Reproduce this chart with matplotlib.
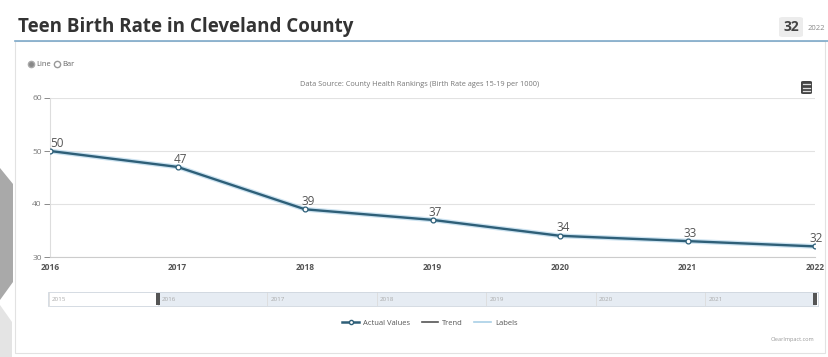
import matplotlib.pyplot as plt
from matplotlib.lines import Line2D
from matplotlib.patches import Rectangle, Polygon, FancyBboxPatch

plt.rcParams['font.family'] = ['Open Sans', 'DejaVu Sans']

# data
years = [2016, 2017, 2018, 2019, 2020, 2021, 2022]
rates = [50, 47, 39, 37, 34, 33, 32]
nav_years = [2015, 2016, 2017, 2018, 2019, 2020, 2021]
latest_value = '32'
latest_year = '2022'

W, H = 829, 357
line_col = '#2e5f78'
glow_col = '#a9cfe6'


def fx(px):
    return px / W


def fy(py):
    return 1 - py / H


fig = plt.figure(figsize=(W / 100, H / 100), dpi=100)
fig.patch.set_facecolor('white')

# left grey chevron (page decoration)
fig.patches.append(Polygon([(fx(0), fy(168)), (fx(13), fy(184)), (fx(13), fy(282)),
                            (fx(0), fy(300))], closed=True, transform=fig.transFigure,
                           facecolor='#a9a9a9', edgecolor='none'))
fig.patches.append(Polygon([(fx(0), fy(305)), (fx(12), fy(322)), (fx(12), fy(357)),
                            (fx(0), fy(357))], closed=True, transform=fig.transFigure,
                           facecolor='#e4e4e4', edgecolor='none'))

# header
fig.text(fx(18), fy(27), 'Teen Birth Rate in Cleveland County', fontsize=13.5,
         fontweight='bold', color='#333333', va='center', ha='left')
fig.patches.append(FancyBboxPatch((fx(779), fy(37)), fx(24), 20 / H,
                                  boxstyle='round,pad=0,rounding_size=0.005',
                                  transform=fig.transFigure, facecolor='#ececec',
                                  edgecolor='none'))
fig.text(fx(791), fy(27), latest_value, fontsize=10, fontweight='bold', color='#444444',
         ha='center', va='center')
fig.text(fx(816), fy(28), latest_year, fontsize=5.5, color='#888888', ha='center', va='center')

# card border and blue header rule
fig.patches.append(Rectangle((fx(15), fy(353)), fx(810), (353 - 41) / H,
                             transform=fig.transFigure, facecolor='none',
                             edgecolor='#e2e2e2', linewidth=0.8))
fig.add_artist(Line2D([fx(15), fx(829)], [fy(41), fy(41)], color='#7ea9c9', linewidth=1.2))

# radio buttons
fig.add_artist(Line2D([fx(31)], [fy(64)], marker='o', markersize=4.5, markerfacecolor='#888888',
                      markeredgecolor='#aaaaaa', linestyle='none'))
fig.text(fx(36), fy(64), 'Line', fontsize=5.5, color='#666666', va='center')
fig.add_artist(Line2D([fx(57)], [fy(64)], marker='o', markersize=4.5, markerfacecolor='white',
                      markeredgecolor='#999999', linestyle='none'))
fig.text(fx(62), fy(64), 'Bar', fontsize=5.5, color='#666666', va='center')

fig.text(fx(420), fy(85), 'Data Source: County Health Rankings (Birth Rate ages 15-19 per 1000)',
         fontsize=5.3, color='#777777', ha='center', va='center')

# menu icon
fig.patches.append(FancyBboxPatch((fx(801), fy(94)), fx(11), 13 / H,
                                  boxstyle='round,pad=0,rounding_size=0.003',
                                  transform=fig.transFigure, facecolor='#444444',
                                  edgecolor='none'))
for py in [84, 87.5, 91]:
    fig.add_artist(Line2D([fx(803), fx(810)], [fy(py), fy(py)], color='#dddddd', linewidth=0.9))

# main chart
ax = fig.add_axes([fx(50), fy(257), fx(815 - 50), (257 - 98) / H])
ax.plot(years, rates, color=glow_col, linewidth=3.5, alpha=0.6, zorder=2)
ax.plot(years, rates, color=line_col, linewidth=1.7, marker='o', markersize=3.5,
        markerfacecolor='white', markeredgecolor=line_col, markeredgewidth=0.9, zorder=3)
for i, (x, y) in enumerate(zip(years, rates)):
    dx = 5 if i == 0 else (2 if i < len(years) - 1 else 1)
    ax.annotate(str(y), (x, y), xytext=(dx, 1), textcoords='offset points', ha='center',
                va='bottom', fontsize=8.5, color='#555555', zorder=4)
ax.set_xlim(2016, 2022)
ax.set_ylim(30, 60)
ax.set_yticks([30, 40, 50, 60])
ax.set_xticks(years)
ax.set_xticklabels([str(y) for y in years], fontsize=6, color='#555555', fontweight='bold')
ax.tick_params(axis='y', labelsize=6, colors='#777777', length=4, width=0.6, pad=2)
ax.tick_params(axis='x', length=0, pad=4)
ax.grid(axis='y', color='#e2e2e2', linewidth=0.8)
for s in ['top', 'right']:
    ax.spines[s].set_visible(False)
ax.spines['left'].set_color('#dddddd')
ax.spines['bottom'].set_color('#cccccc')
ax.set_axisbelow(True)
ax.patch.set_alpha(0)
for lab in ax.get_xticklabels():
    lab.set_color('#555555')

# navigator
nav = fig.add_axes([fx(48.5), fy(306), fx(818 - 48.5), 14 / H])
nav.set_xlim(2015, 2022.03)
nav.set_ylim(0, 1)
nav.axvspan(2016, 2022, color='#e6ecf3', zorder=0)
for yr in nav_years:
    nav.axvline(yr, color='#dcdcdc', linewidth=0.6, zorder=1)
    nav.text(yr + 0.03, 0.45, str(yr), fontsize=4.5, color='#aaaaaa', va='center', ha='left')
for yr in [2016, 2022]:
    nav.add_patch(Rectangle((yr - 0.02, 0.1), 0.04, 0.8, facecolor='#555555',
                            edgecolor='none', zorder=3))
nav.set_xticks([])
nav.set_yticks([])
for s in nav.spines.values():
    s.set_color('#cfd6de')
    s.set_linewidth(0.6)

# legend
handles = [Line2D([], [], color=line_col, linewidth=1.8, marker='o', markersize=3,
                  markerfacecolor='white', markeredgecolor=line_col),
           Line2D([], [], color='#555555', linewidth=1.2),
           Line2D([], [], color=glow_col, linewidth=1.2)]
fig.legend(handles, ['Actual Values', 'Trend', 'Labels'], loc='center',
           bbox_to_anchor=(fx(430), fy(323)), ncol=3, frameon=False, fontsize=5.5,
           handlelength=2.2, columnspacing=1.5, handletextpad=0.5,
           labelcolor='#555555')

fig.text(fx(814), fy(340), 'ClearImpact.com', fontsize=4, color='#999999', ha='right',
         va='center')

fig.savefig('out.png', dpi=100, facecolor='white')
